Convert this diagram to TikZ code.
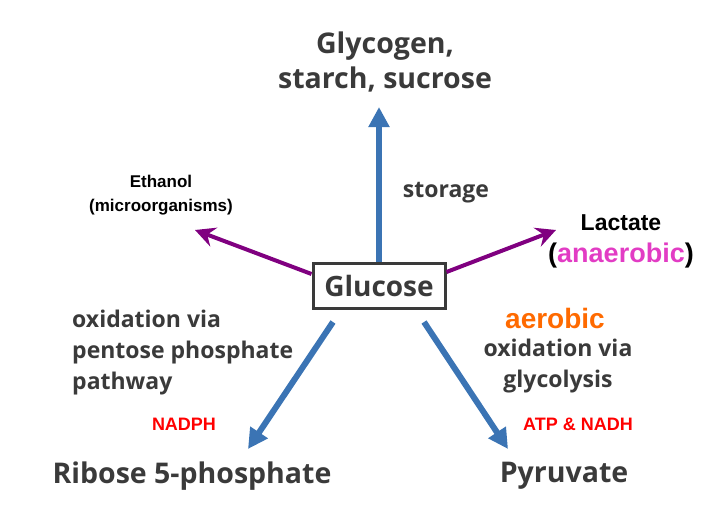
\documentclass[tikz,border=0pt]{standalone}
\usepackage{fontspec}
\setmainfont{Open Sans}
\newfontfamily\arialfont{Liberation Sans}
\usetikzlibrary{arrows.meta}
\definecolor{txtgray}{HTML}{3A3A3A}
\definecolor{arrblue}{HTML}{3B74B4}
\definecolor{arrpurple}{HTML}{800080}
\definecolor{magentatxt}{HTML}{E23CC4}
\definecolor{orangetxt}{HTML}{FF6A00}
\begin{document}
\begin{tikzpicture}[x=1pt,y=-1pt,
  bigtxt/.style={font=\fontsize{28.5}{35}\selectfont\bfseries, text=txtgray, align=center, inner sep=0pt},
  midtxt/.style={font=\fontsize{23}{31}\selectfont\bfseries, text=txtgray, inner sep=0pt},
  smalltxt/.style={font=\arialfont\fontsize{17}{24}\selectfont\bfseries, inner sep=0pt, align=center},
  redtxt/.style={font=\arialfont\fontsize{18}{22}\selectfont\bfseries, inner sep=0pt, text=red},
  bluearr/.style={draw=arrblue, line width=6pt, -{Triangle[length=20pt,width=20pt]}},
  purparr/.style={draw=arrpurple, line width=4pt, -{Stealth[length=20pt,width=20pt,inset=7pt]}},
]
\useasboundingbox (0,0) rectangle (713,509);
\node[draw=txtgray, line width=3pt, minimum width=132pt, minimum height=45pt, inner sep=0pt,
      font=\fontsize{28}{30}\selectfont\bfseries, text=txtgray] (glc) at (379,286) {Glucose};
\node[bigtxt] (gly) at (385,62) {Glycogen,\\starch, sucrose};
\node[midtxt] (sto) at (446,193) {storage};
\node[smalltxt] (eth) at (161,195) {Ethanol\\(microorganisms)};
\node[font=\arialfont\fontsize{23}{24}\selectfont\bfseries, inner sep=0pt] (lac) at (621,223) {Lactate};
\node[font=\arialfont\fontsize{27}{28}\selectfont\bfseries, inner sep=0pt] (ana) at (621,256) {(\textcolor{magentatxt}{anaerobic})};
\node[midtxt, align=left, anchor=west] (ppp) at (72,353) {oxidation via\\pentose phosphate\\pathway};
\node[redtxt] (nadph) at (184,424) {NADPH};
\node[bigtxt] (rib) at (192,476) {Ribose 5-phosphate};
\node[font=\arialfont\fontsize{28}{30}\selectfont\bfseries, text=orangetxt, inner sep=0pt] (aer) at (555,318) {aerobic};
\node[midtxt, align=center] (gly2) at (558,366) {oxidation via\\glycolysis};
\node[redtxt] (atp) at (578,424) {ATP \& NADH};
\node[bigtxt] (pyr) at (564,476) {Pyruvate};
\coordinate (tipUp) at (379,107);
\coordinate (tipEth) at (195,230);
\coordinate (tipLac) at (556,230);
\coordinate (tipRib) at (248,449);
\coordinate (tipPyr) at (508,449);
\coordinate (sRib) at (333,322);
\coordinate (sPyr) at (424,322);
\draw[bluearr] (glc.north) -- (tipUp);
\draw[purparr] (glc.west |- 0,274) -- (tipEth);
\draw[purparr] (glc.east |- 0,272) -- (tipLac);
\draw[bluearr] (sRib) -- (tipRib);
\draw[bluearr] (sPyr) -- (tipPyr);
\end{tikzpicture}
\end{document}
